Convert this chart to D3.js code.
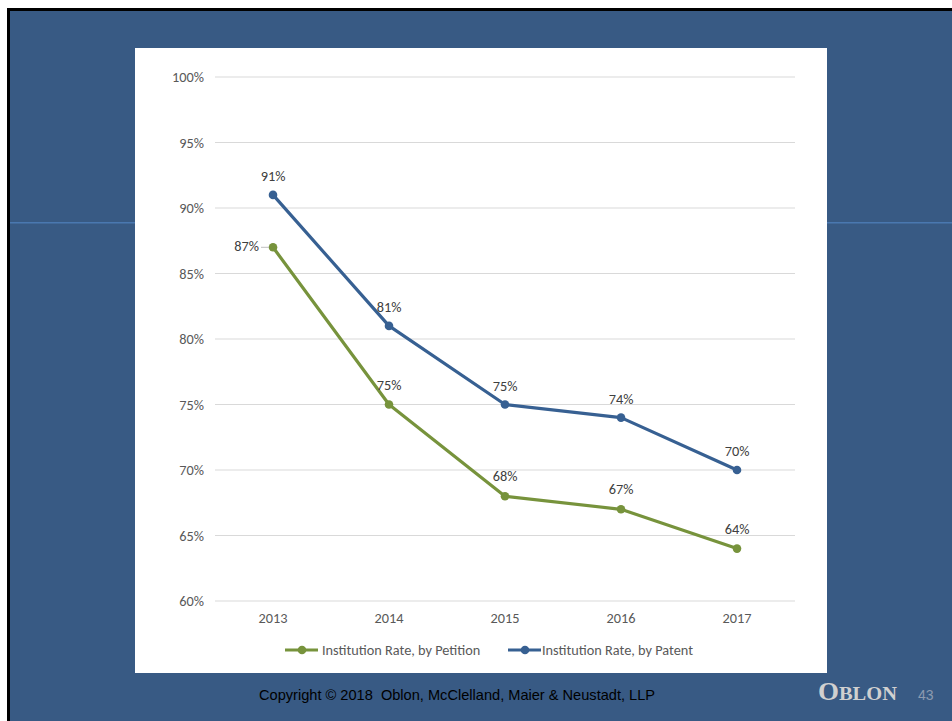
<!DOCTYPE html>
<html><head><meta charset="utf-8">
<script src="https://cdn.jsdelivr.net/npm/d3@7"></script>
<style>html,body{margin:0;padding:0;background:#fff;}svg{display:block;}</style>
</head><body>
<svg id="c" width="952" height="721"></svg>
<script>
const years = ["2013","2014","2015","2016","2017"];
const byPetition = [87, 75, 68, 67, 64];
const byPatent = [91, 81, 75, 74, 70];
const yTicks = [60,65,70,75,80,85,90,95,100];
const seriesNames = ["Institution Rate, by Petition","Institution Rate, by Patent"];
const seriesColors = ["#77933C","#376092"];

const svg = d3.select("#c");
// slide background
svg.append("rect").attr("x",7).attr("y",8).attr("width",945).attr("height",713).attr("fill","#000");
svg.append("rect").attr("x",10).attr("y",11).attr("width",942).attr("height",710).attr("fill","#385A84");
svg.append("rect").attr("x",10).attr("y",222).attr("width",942).attr("height",1.5).attr("fill","#4A78B0");
// chart panel
svg.append("rect").attr("x",135).attr("y",48).attr("width",692).attr("height",625).attr("fill","#fff");

const x = d3.scaleBand().domain(years).range([215,795]);
const y = d3.scaleLinear().domain([60,100]).range([601,77]);
const font = "Carlito, Lato, 'Open Sans', sans-serif";
const fs = 14.3;

const g = svg.append("g");
g.selectAll("line.grid").data(yTicks).join("line")
  .attr("x1",215).attr("x2",795).attr("y1",d=>y(d)).attr("y2",d=>y(d))
  .attr("stroke","#D9D9D9").attr("stroke-width",1);

const yAxis = d3.axisLeft(y).tickValues(yTicks).tickFormat(d=>d+"%").tickSize(0).tickPadding(0);
g.append("g").attr("transform","translate(204,0)").call(yAxis)
  .call(a=>a.select(".domain").remove())
  .selectAll("text").attr("font-family",font).attr("font-size",fs).attr("fill","#595959");

const xAxis = d3.axisBottom(x).tickSize(0).tickPadding(0);
g.append("g").attr("transform","translate(0,613)").call(xAxis)
  .call(a=>a.select(".domain").remove())
  .selectAll("text").attr("font-family",font).attr("font-size",fs).attr("fill","#595959");

const cx = d=>x(d)+x.bandwidth()/2;
const series = [byPetition, byPatent];
const line = d3.line().x((d,i)=>cx(years[i])).y(d=>y(d));
series.forEach((s,k)=>{
  g.append("path").datum(s).attr("d",line).attr("fill","none")
    .attr("stroke",seriesColors[k]).attr("stroke-width",3.2).attr("stroke-linejoin","round");
  g.selectAll(null).data(s).join("circle")
    .attr("cx",(d,i)=>cx(years[i])).attr("cy",d=>y(d)).attr("r",4.3).attr("fill",seriesColors[k]);
});
// patent labels above
g.selectAll(null).data(byPatent).join("text")
  .attr("x",(d,i)=>cx(years[i])).attr("y",d=>y(d)-14)
  .attr("text-anchor","middle").attr("font-family",font).attr("font-size",fs).attr("fill","#404040")
  .text(d=>d+"%");
// petition labels: first to left with leader, rest above
g.selectAll(null).data(byPetition).join("text")
  .attr("x",(d,i)=>i===0?cx(years[i])-14:cx(years[i]))
  .attr("y",(d,i)=>i===0?y(d)+4:y(d)-15)
  .attr("text-anchor",(d,i)=>i===0?"end":"middle")
  .attr("font-family",font).attr("font-size",fs).attr("fill","#404040")
  .text(d=>d+"%");
g.append("line").attr("x1",cx(years[0])-12).attr("x2",cx(years[0])-4)
  .attr("y1",y(byPetition[0])).attr("y2",y(byPetition[0])).attr("stroke","#BFBFBF").attr("stroke-width",1);

// legend
const legendX = [285,508];
seriesNames.forEach((n,k)=>{
  const lg = g.append("g").attr("transform",`translate(${legendX[k]},650)`);
  lg.append("line").attr("x1",0).attr("x2",33).attr("stroke",seriesColors[k]).attr("stroke-width",3.2);
  lg.append("circle").attr("cx",17).attr("r",4.3).attr("fill",seriesColors[k]);
  lg.append("text").attr("x",k===0?37:34).attr("y",5).attr("font-family",font).attr("font-size",fs)
    .attr("fill","#595959").text(n);
});

// footer
svg.append("text").attr("x",259).attr("y",700).attr("font-family","'Liberation Sans', Arial, sans-serif")
  .attr("font-size",14.6).attr("fill","#000").attr("xml:space","preserve")
  .text("Copyright © 2018  Oblon, McClelland, Maier & Neustadt, LLP");
svg.append("text").attr("x",818).attr("y",700).attr("font-family","'Liberation Serif', 'DejaVu Serif', serif")
  .attr("font-weight","bold").attr("fill","#D0D0D0").attr("textLength",79).attr("lengthAdjust","spacingAndGlyphs")
  .call(t=>{t.append("tspan").attr("font-size",25).text("O");t.append("tspan").attr("font-size",19).text("BLON");});
svg.append("text").attr("x",918).attr("y",700).attr("font-family","'Liberation Sans', Arial, sans-serif")
  .attr("font-size",14).attr("fill","#8C9BB0").text("43");
</script>
</body></html>
